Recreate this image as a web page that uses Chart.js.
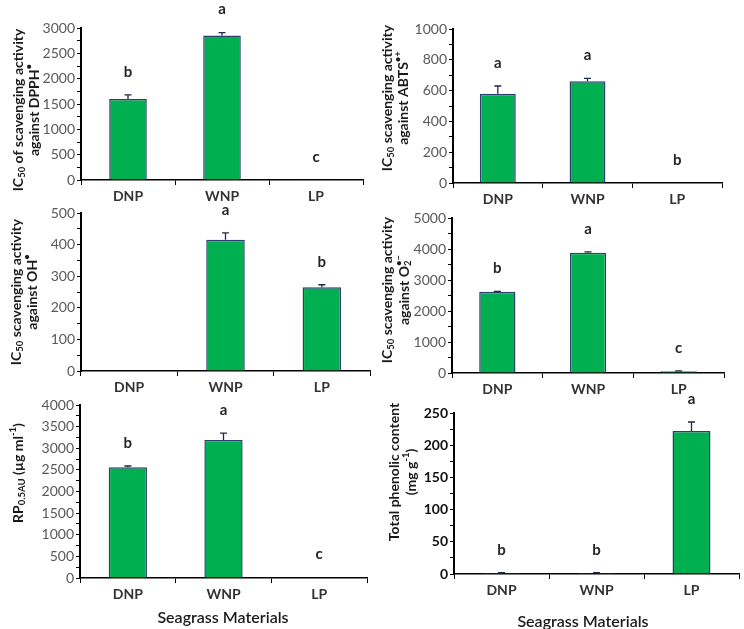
<!DOCTYPE html>
<html>
<head>
<meta charset="utf-8">
<script src="https://cdn.jsdelivr.net/npm/chart.js@4.4.1/dist/chart.umd.min.js"></script>
<style>
  body { margin: 0; background: #fff; }
  #wrap { position: relative; width: 744px; height: 629px; }
  #wrap canvas { position: absolute; left: 0; top: 0; }
</style>
</head>
<body>
<div id="wrap">
  <canvas id="dpph" width="744" height="629"></canvas>
  <canvas id="abts" width="744" height="629"></canvas>
  <canvas id="oh" width="744" height="629"></canvas>
  <canvas id="o2" width="744" height="629"></canvas>
  <canvas id="rp" width="744" height="629"></canvas>
  <canvas id="tpc" width="744" height="629"></canvas>
</div>
<script>
// categories shared by all six panels
const categories = ['DNP', 'WNP', 'LP'];

// y axis: [min, max, labelled step]
const dpphValues = [1600, 2850, 5];
const dpphErrors = [80, 60, 0];
const dpphLetters = ['b', 'a', 'c'];
const dpphAxis = [0, 3000, 500];

const abtsValues = [580, 660, 0];
const abtsErrors = [50, 20, 0];
const abtsLetters = ['a', 'a', 'b'];
const abtsAxis = [0, 1000, 200];

const ohValues = [0, 415, 265];
const ohErrors = [0, 22, 8];
const ohLetters = ['', 'a', 'b'];
const ohAxis = [0, 500, 100];

const o2Values = [2620, 3880, 60];
const o2Errors = [15, 30, 10];
const o2Letters = ['b', 'a', 'c'];
const o2Axis = [0, 5000, 1000];

const rpValues = [2560, 3190, 10];
const rpErrors = [30, 160, 0];
const rpLetters = ['b', 'a', 'c'];
const rpAxis = [0, 4000, 500];

const tpcValues = [1.5, 1.5, 222];
const tpcErrors = [0.5, 0.5, 14];
const tpcLetters = ['b', 'b', 'a'];
const tpcAxis = [0, 250, 50];

const FONT = 'Lato, "Open Sans", sans-serif';
const W = 744, H = 629;
const GREEN = '#00B050';
const NAVY = '#2B4070';

/**
 * Rotated axis title with sub/superscript pieces
 */
function drawRotated(ctx, parts, cx, cy, size) {
    ctx.save();
    ctx.translate(cx, cy);
    ctx.rotate(-Math.PI / 2);
    ctx.textBaseline = 'middle';
    ctx.fillStyle = '#1a1a1a';
    let total = 0;
    const pieces = parts.map(([text, mode, stay]) => {
        const s = mode ? size * 0.68 : size;
        ctx.font = `bold ${s}px ${FONT}`;
        const w = ctx.measureText(text).width;
        if (!stay) total += w;
        return { text, mode, stay, s, w };
    });
    let x = -total / 2;
    pieces.forEach(p => {
        ctx.font = `bold ${p.s}px ${FONT}`;
        let dy = 0;
        if (p.mode === 'sub') dy = size * 0.3;
        if (p.mode === 'sup') dy = -size * 0.38;
        ctx.fillText(p.text, x, dy);
        if (!p.stay) x += p.w;
    });
    ctx.restore();
}

function extrasPlugin(cfg) {
    return {
        id: 'extras',
        afterDraw(chart) {
            const ctx = chart.ctx;
            const y = chart.scales.y;
            const meta = chart.getDatasetMeta(0);
            meta.data.forEach((bar, i) => {
                const top = y.getPixelForValue(cfg.values[i] + cfg.errors[i]);
                if (cfg.errors[i] > 0) {
                    ctx.save();
                    ctx.strokeStyle = '#1F2A44';
                    ctx.lineWidth = 1.3;
                    ctx.beginPath();
                    ctx.moveTo(bar.x, bar.y);
                    ctx.lineTo(bar.x, top);
                    ctx.moveTo(bar.x - 3.5, top);
                    ctx.lineTo(bar.x + 3.5, top);
                    ctx.stroke();
                    ctx.restore();
                }
                if (cfg.letters[i]) {
                    ctx.save();
                    ctx.font = `bold 15px ${FONT}`;
                    ctx.fillStyle = '#262626';
                    ctx.textAlign = 'center';
                    ctx.textBaseline = 'middle';
                    ctx.fillText(cfg.letters[i], bar.x, top - 23);
                    ctx.restore();
                }
            });
            cfg.title.forEach((line, k) => {
                drawRotated(ctx, line, cfg.titleX[k], cfg.titleY, 14);
            });
            if (cfg.xTitle) {
                ctx.save();
                ctx.font = `600 16px ${FONT}`;
                ctx.fillStyle = '#1a1a1a';
                ctx.textAlign = 'center';
                ctx.textBaseline = 'middle';
                ctx.fillText('Seagrass Materials', cfg.xTitle[0], cfg.xTitle[1]);
                ctx.restore();
            }
        }
    };
}

function buildPanel(id, cfg) {
    const a = cfg.area;
    const Y_W = 50, X_H = 30;
    const boldTicks = !!cfg.boldTicks;
    new Chart(document.getElementById(id), {
        type: 'bar',
        data: {
            labels: categories,
            datasets: [{
                data: cfg.values,
                backgroundColor: GREEN,
                borderColor: NAVY,
                borderWidth: 1.5,
                barPercentage: 0.4,
                categoryPercentage: 1
            }]
        },
        options: {
            responsive: false,
            animation: false,
            events: [],
            layout: {
                padding: { left: a.l - Y_W, top: a.t, right: W - a.r, bottom: H - a.b - X_H }
            },
            plugins: {
                legend: { display: false },
                tooltip: { enabled: false }
            },
            scales: {
                x: {
                    offset: true,
                    afterFit: s => { s.height = X_H; },
                    grid: { offset: true, drawOnChartArea: false, tickLength: 5, color: '#000' },
                    border: { color: '#000', width: 1.5 },
                    ticks: {
                        font: { family: FONT, size: 14, weight: 'bold' },
                        color: '#333',
                        padding: 3
                    }
                },
                y: {
                    min: cfg.axis[0],
                    max: cfg.axis[1],
                    afterFit: s => { s.width = Y_W; },
                    grid: { drawOnChartArea: false, tickLength: 4, color: '#000' },
                    border: { color: '#000', width: 2 },
                    ticks: {
                        stepSize: cfg.axis[2] / 2,
                        autoSkip: false,
                        callback: v => (v % cfg.axis[2] === 0 ? v : ''),
                        font: { family: FONT, size: 14, weight: boldTicks ? 'bold' : 'normal' },
                        color: boldTicks ? '#111' : '#595959',
                        padding: 2
                    }
                }
            }
        },
        plugins: [extrasPlugin(cfg)]
    });
}

document.addEventListener('DOMContentLoaded', function() {
    buildPanel('dpph', {
        values: dpphValues, errors: dpphErrors, letters: dpphLetters, axis: dpphAxis,
        area: { l: 81, t: 28, r: 363, b: 180 },
        title: [
            [['IC', ''], ['50', 'sub'], [' of scavenging activity', '']],
            [['against DPPH', ''], ['\u2022', 'sup']]
        ],
        titleX: [18, 34], titleY: 110
    });
    buildPanel('abts', {
        values: abtsValues, errors: abtsErrors, letters: abtsLetters, axis: abtsAxis,
        area: { l: 453, t: 29, r: 722, b: 183 },
        title: [
            [['IC', ''], ['50', 'sub'], [' scavenging activity', '']],
            [['against ABTS', ''], ['\u2022+', 'sup']]
        ],
        titleX: [387, 403], titleY: 98
    });
    buildPanel('oh', {
        values: ohValues, errors: ohErrors, letters: ohLetters, axis: ohAxis,
        area: { l: 81, t: 213, r: 370, b: 371 },
        title: [
            [['IC', ''], ['50', 'sub'], [' scavenging activity', '']],
            [['against OH', ''], ['\u2022', 'sup']]
        ],
        titleX: [16, 32], titleY: 292
    });
    buildPanel('o2', {
        values: o2Values, errors: o2Errors, letters: o2Letters, axis: o2Axis,
        area: { l: 452, t: 218, r: 724, b: 373 },
        title: [
            [['IC', ''], ['50', 'sub'], [' scavenging activity', '']],
            [['against O', ''], ['2', 'sub', true], ['\u2022\u2212', 'sup']]
        ],
        titleX: [387, 404], titleY: 290
    });
    buildPanel('rp', {
        values: rpValues, errors: rpErrors, letters: rpLetters, axis: rpAxis,
        area: { l: 80, t: 405, r: 367, b: 578 },
        title: [
            [['RP', ''], ['0.5AU', 'sub'], [' (\u00b5g ml', ''], ['-1', 'sup'], [')', '']]
        ],
        titleX: [18], titleY: 473,
        xTitle: [223, 618]
    });
    buildPanel('tpc', {
        values: tpcValues, errors: tpcErrors, letters: tpcLetters, axis: tpcAxis,
        area: { l: 454, t: 413, r: 739, b: 574 },
        title: [
            [['Total phenolic content', '']],
            [['(mg g', ''], ['-1', 'sup'], [')', '']]
        ],
        titleX: [394, 411], titleY: 472,
        xTitle: [583, 622],
        boldTicks: true
    });
});
</script>
</body>
</html>
